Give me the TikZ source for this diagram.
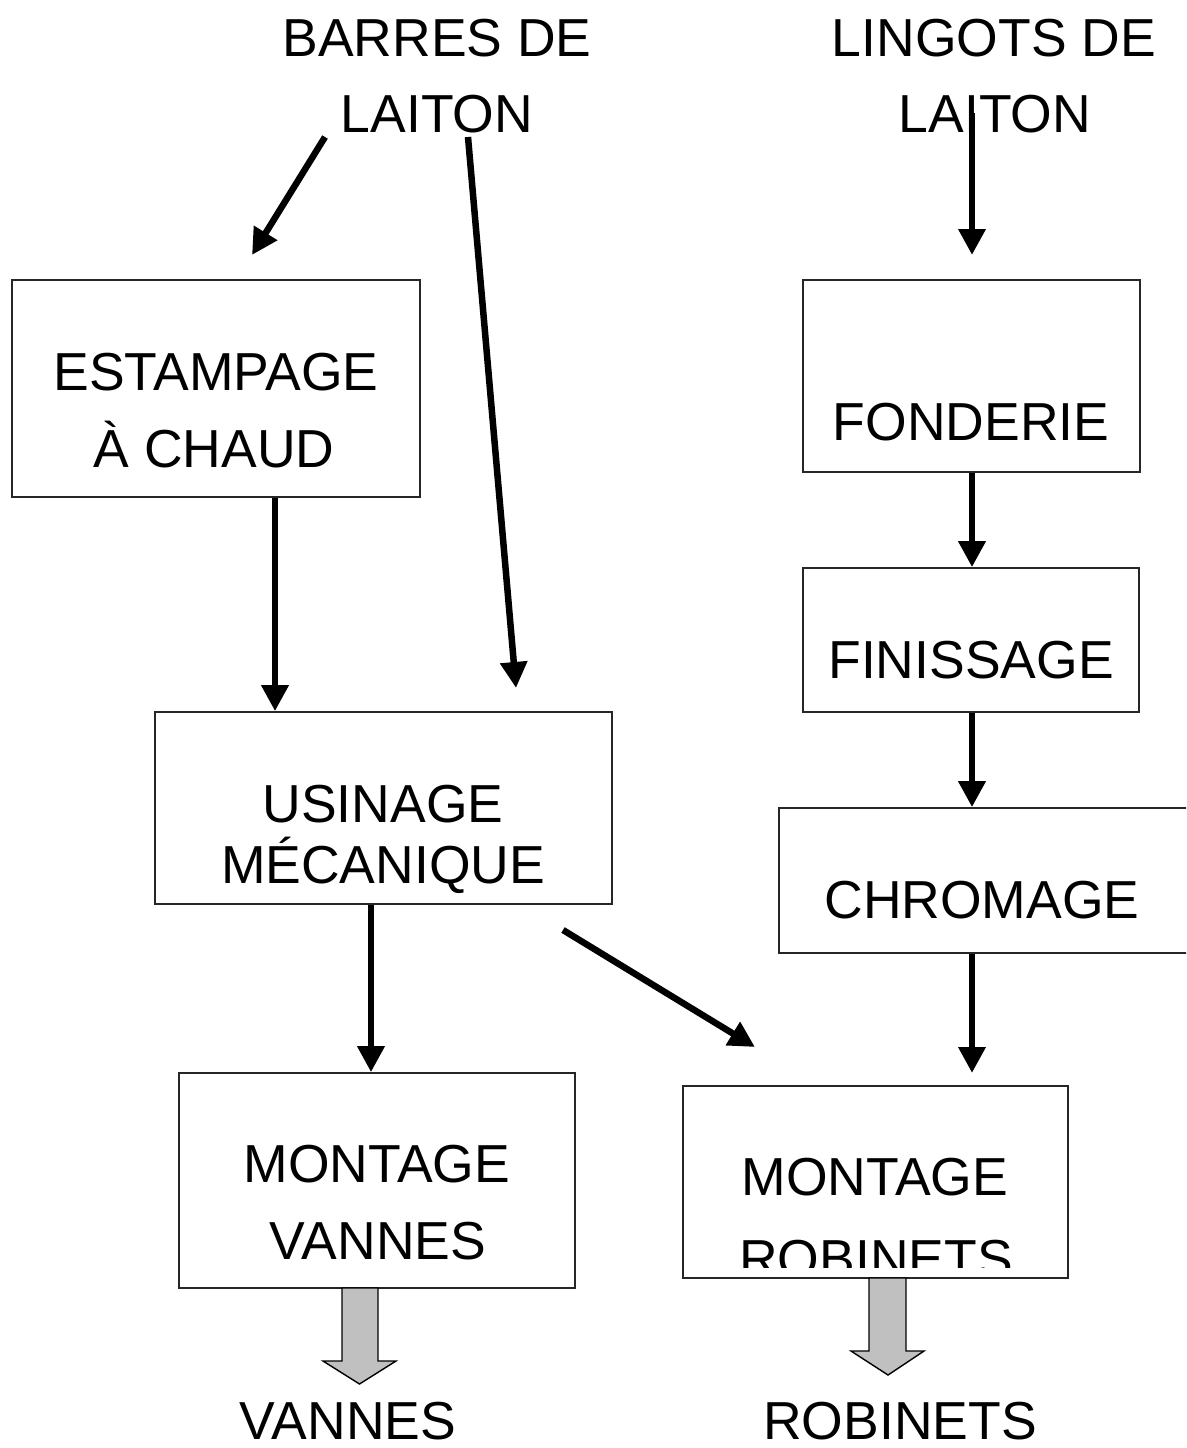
\documentclass[tikz,border=0pt]{standalone}
\usepackage{fontspec}
\setmainfont{Liberation Sans}
\usetikzlibrary{arrows.meta}
\definecolor{blockgray}{HTML}{C0C0C0}
\tikzset{
  box/.style={draw=black!85, line width=1.6pt, inner sep=0pt, fill=white},
  lbl/.style={anchor=base, inner sep=0pt, font=\fontsize{53.5}{62}\selectfont},
  arr/.style={line width=6.5pt, -{Triangle[length=26pt,width=26pt]}},
  garr/.style={draw=black, line width=1.4pt, fill=blockgray, line join=miter}
}
\begin{document}
\begin{tikzpicture}[x=1pt,y=-1pt]
\useasboundingbox (0,0) rectangle (1186,1448);
\clip (0,0) rectangle (1186,1448);
\fill[white] (0,0) rectangle (1186,1448);

% boxes
\node[box, minimum width=408pt, minimum height=217pt] (est) at (216,388.5) {};
\node[box, minimum width=337pt, minimum height=192pt] (fon) at (971.5,376) {};
\node[box, minimum width=336pt, minimum height=144pt] (fin) at (971,640) {};
\node[box, minimum width=421pt, minimum height=145pt] (chr) at (989.5,880.5) {};
\node[box, minimum width=457pt, minimum height=192pt] (usi) at (383.5,808) {};
\node[box, minimum width=396pt, minimum height=215pt] (mv) at (377,1180.5) {};
\node[box, minimum width=385pt, minimum height=192pt] (mr) at (875.5,1182) {};

% texts
\node[lbl] (t1a) at (437,56) {BARRES DE};
\node[lbl] (t1b) at (437,132) {LAITON};
\node[lbl] (t2a) at (994,56) {LINGOTS DE};
\node[lbl] (t2b) at (995,132) {LAITON};
\node[lbl] (testa) at (216,390) {ESTAMPAGE};
\node[lbl] (testb) at (214,467) {À CHAUD};
\node[lbl] (tfon) at (971,440) {FONDERIE};
\node[lbl] (tfin) at (971,678) {FINISSAGE};
\node[lbl] (tchr) at (982,918) {CHROMAGE};
\node[lbl] (tusia) at (383,822) {USINAGE};
\node[lbl] (tusib) at (383,883) {MÉCANIQUE};
\node[lbl] (tmva) at (377,1182) {MONTAGE};
\node[lbl] (tmvb) at (378,1259) {VANNES};
\node[lbl] (tmra) at (875,1195) {MONTAGE};
\begin{scope}
\clip (684,1087) rectangle (1067,1267);
\node[lbl] (tmrb) at (876,1277) {ROBINETS};
\end{scope}
\node[lbl] (tv) at (348,1439) {VANNES};
\node[lbl] (tr) at (900,1439) {ROBINETS};

% free ends
\coordinate (a1s) at (325,137);
\coordinate (a1e) at (252,255);
\coordinate (a2s) at (468,137);
\coordinate (a2e) at (516,688);
\coordinate (a3s) at (972,113);
\coordinate (a3e) at (972,255);
\coordinate (a4s) at (563,930);
\coordinate (a4e) at (755,1047);
\coordinate (a5e) at (972,1073);

% connectors
\draw[arr] (a1s) -- (a1e);
\draw[arr] (a2s) -- (a2e);
\draw[arr] (a3s) -- (a3e);
\draw[arr] ([xshift=59pt]est.south) -- ([xshift=-108.5pt]usi.north);
\draw[arr] ([xshift=-12.5pt]usi.south) -- ([xshift=-6pt]mv.north);
\draw[arr] (a4s) -- (a4e);
\draw[arr] ([xshift=0.5pt]fon.south) -- ([xshift=1pt]fin.north);
\draw[arr] ([xshift=1pt]fin.south) -- ([xshift=-17.5pt]chr.north);
\draw[arr] ([xshift=-17.5pt]chr.south) -- (a5e);

% grey block arrows
\draw[garr] (342,1288) -- (342,1361) -- (323,1361) -- (359.5,1384) -- (396,1361) -- (378,1361) -- (378,1288) -- cycle;
\draw[garr] (869,1278) -- (869,1351) -- (851,1351) -- (888,1375) -- (924,1351) -- (906,1351) -- (906,1278) -- cycle;
\end{tikzpicture}
\end{document}
